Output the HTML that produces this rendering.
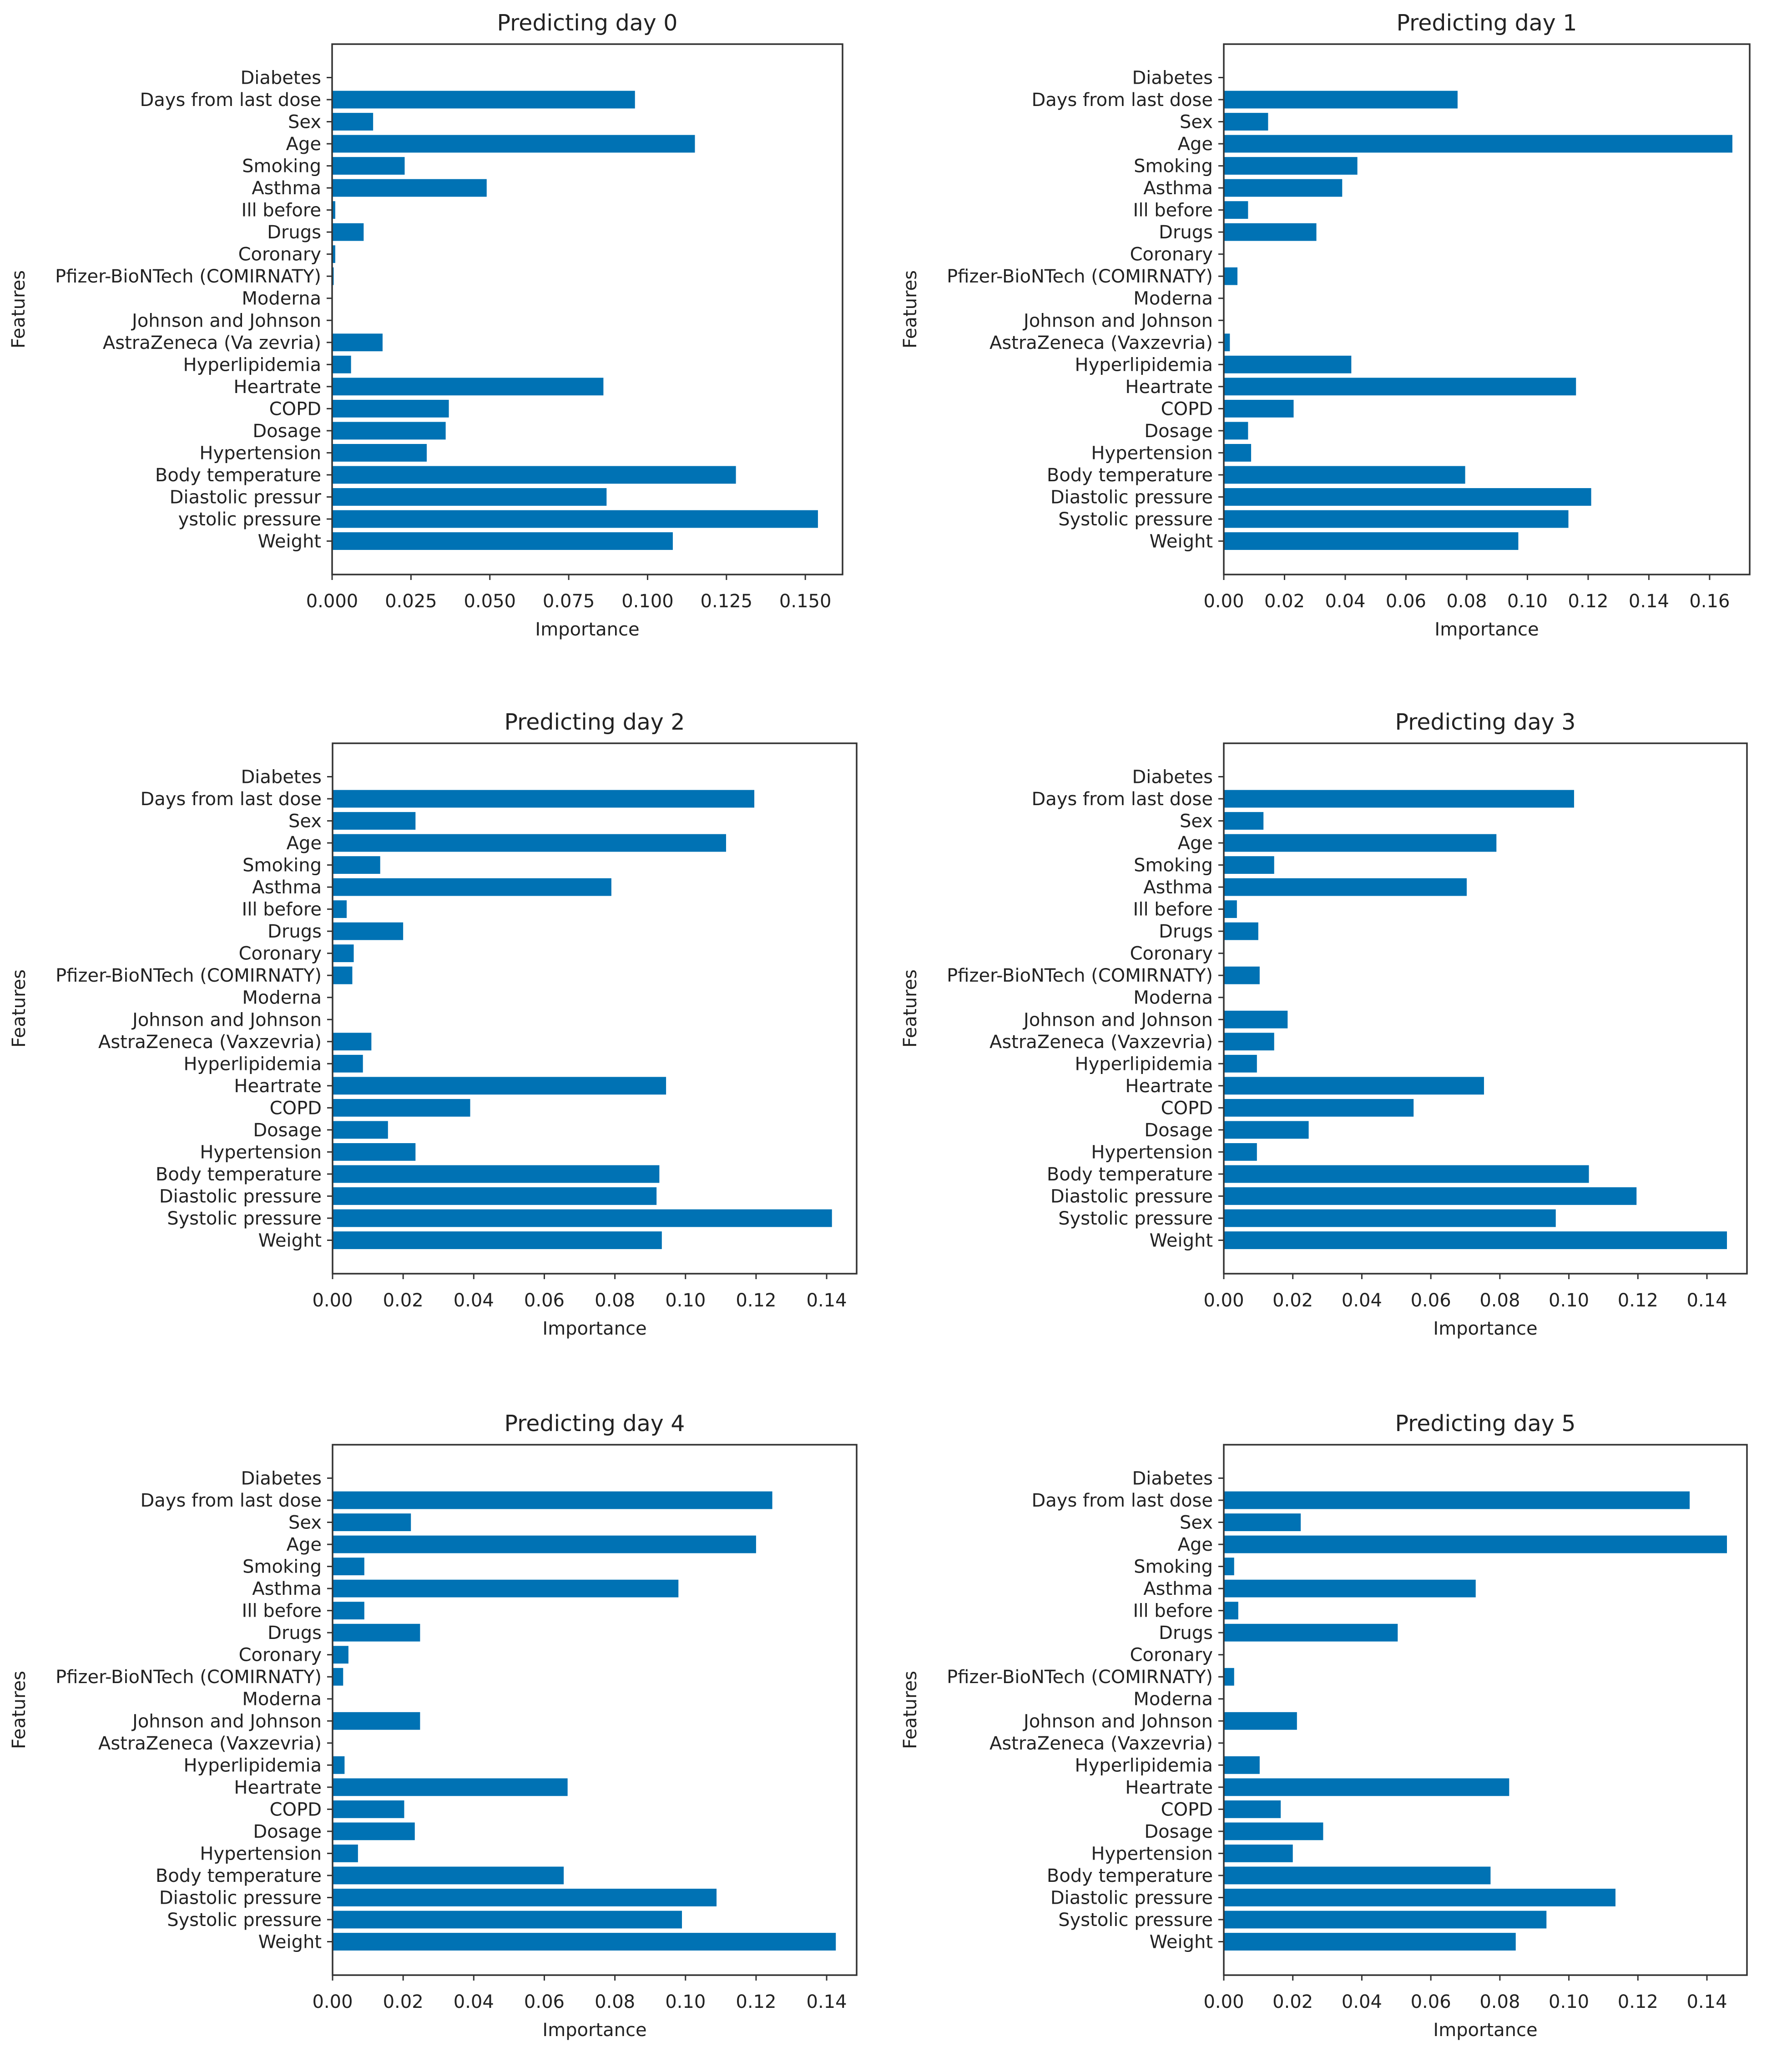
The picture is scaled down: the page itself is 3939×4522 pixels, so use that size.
<!DOCTYPE html>
<html><head><meta charset="utf-8"><style>
html,body{margin:0;padding:0;background:#fff;}
svg{display:block;font-family:"DejaVu Sans","Liberation Sans",sans-serif;}
</style></head><body>
<svg id="fig" width="3939" height="4522" viewBox="0 0 3939 4522" xmlns="http://www.w3.org/2000/svg"></svg>
<script>
const categories0 = ["Diabetes","Days from last dose","Sex","Age","Smoking","Asthma","Ill before","Drugs","Coronary","Pfizer-BioNTech (COMIRNATY)","Moderna","Johnson and Johnson","AstraZeneca (Va  zevria)","Hyperlipidemia","Heartrate","COPD","Dosage","Hypertension","Body temperature","Diastolic pressur  ","ystolic pressure","Weight"];
const categories = ["Diabetes","Days from last dose","Sex","Age","Smoking","Asthma","Ill before","Drugs","Coronary","Pfizer-BioNTech (COMIRNATY)","Moderna","Johnson and Johnson","AstraZeneca (Vaxzevria)","Hyperlipidemia","Heartrate","COPD","Dosage","Hypertension","Body temperature","Diastolic pressure","Systolic pressure","Weight"];
const day0 = [0,0.096,0.013,0.115,0.023,0.049,0.001,0.010,0.001,0.0005,0,0,0.016,0.006,0.086,0.037,0.036,0.030,0.128,0.087,0.154,0.108];
const day1 = [0,0.077,0.0146,0.1675,0.044,0.039,0.008,0.0305,0,0.0045,0,0,0.002,0.042,0.116,0.023,0.008,0.009,0.0795,0.121,0.1135,0.097];
const day2 = [0,0.1195,0.0235,0.1115,0.0135,0.079,0.004,0.020,0.006,0.0056,0,0,0.011,0.0086,0.0945,0.039,0.0157,0.0235,0.0926,0.0918,0.1415,0.0933];
const day3 = [0,0.1015,0.0115,0.079,0.0146,0.0704,0.0038,0.010,0,0.0104,0,0.0185,0.0146,0.0096,0.0754,0.055,0.0246,0.0096,0.1058,0.1196,0.0962,0.1458];
const day4 = [0,0.1246,0.0222,0.120,0.009,0.098,0.009,0.0248,0.0045,0.003,0,0.0248,0,0.0034,0.0666,0.0203,0.0233,0.0072,0.0655,0.1088,0.099,0.1426];
const day5 = [0,0.135,0.0223,0.1458,0.003,0.073,0.0042,0.0504,0,0.003,0,0.0212,0,0.0104,0.0827,0.0165,0.0288,0.020,0.0773,0.1135,0.0935,0.0846];
const ticks0 = [0,0.025,0.05,0.075,0.1,0.125,0.15];
const ticks1 = [0,0.02,0.04,0.06,0.08,0.1,0.12,0.14,0.16];
const ticks2 = [0,0.02,0.04,0.06,0.08,0.1,0.12,0.14];
const titles = ["Predicting day 0","Predicting day 1","Predicting day 2","Predicting day 3","Predicting day 4","Predicting day 5"];
const xmaxes = [0.1618,0.1732,0.1485,0.1516,0.1485,0.1516];

const NS="http://www.w3.org/2000/svg";
const svg=document.getElementById('fig');
function mk(tag,attrs,parent){const e=document.createElementNS(NS,tag);for(const k in attrs)e.setAttribute(k,attrs[k]);parent.appendChild(e);return e;}

const H=1166;
const panels=[
 {vals:day0,cats:categories0,ticks:ticks0,dec:3,x0:730,x1:1852,y0:97},
 {vals:day1,cats:categories,ticks:ticks1,dec:2,x0:2690,x1:3846,y0:97},
 {vals:day2,cats:categories,ticks:ticks2,dec:2,x0:731,x1:1883,y0:1634},
 {vals:day3,cats:categories,ticks:ticks2,dec:2,x0:2690,x1:3840,y0:1634},
 {vals:day4,cats:categories,ticks:ticks2,dec:2,x0:731,x1:1883,y0:3176},
 {vals:day5,cats:categories,ticks:ticks2,dec:2,x0:2690,x1:3840,y0:3176}
];
panels.forEach((p,pi)=>{
  const g=mk('g',{},svg);
  
  
  const y1=p.y0+H;
  const xmax=xmaxes[pi];
  const xs=v=>p.x0+(v/xmax)*(p.x1-p.x0);
  const step=(H-147)/21;
  const ys=i=>p.y0+73.5+i*step;
  const bh=step*0.8;
  const t=mk('text',{x:(p.x0+p.x1)/2,y:p.y0-30,'text-anchor':'middle','font-size':49,fill:'#222'},g);
  t.textContent=titles[pi];
  
  
  p.vals.forEach((v,i)=>{
    if(v>0){
      const r=mk('rect',{x:p.x0,y:ys(i)-bh/2,width:xs(v)-p.x0,height:bh,fill:'#0072b4'},g);
      
      
    }
    mk('line',{x1:p.x0-12,x2:p.x0,y1:ys(i),y2:ys(i),stroke:'#333','stroke-width':3},g);
    const l=mk('text',{x:p.x0-24,y:ys(i)+14,'text-anchor':'end','font-size':40,fill:'#222'},g);
    l.textContent=p.cats[i];
    
    
  });
  p.ticks.forEach(tv=>{
    const x=xs(tv);
    mk('line',{x1:x,x2:x,y1:y1,y2:y1+12,stroke:'#333','stroke-width':3},g);
    const l=mk('text',{x:x,y:y1+72,'text-anchor':'middle','font-size':40,fill:'#222'},g);
    l.textContent=tv.toFixed(p.dec);
    
    
  });
  const fr=mk('rect',{x:p.x0,y:p.y0,width:p.x1-p.x0,height:H,fill:'none',stroke:'#333','stroke-width':3.5},g);
  
  
  const xl=mk('text',{x:(p.x0+p.x1)/2,y:y1+134,'text-anchor':'middle','font-size':40,fill:'#222'},g);
  xl.textContent='Importance';
  
  
  const fx=p.x0-676, fy=p.y0+H/2;
  const yl=mk('text',{x:fx,y:fy,'text-anchor':'middle','font-size':40,fill:'#222',transform:'rotate(-90 '+fx+' '+fy+')'},g);
  yl.textContent='Features';
  
  
});
</script>
</body></html>
